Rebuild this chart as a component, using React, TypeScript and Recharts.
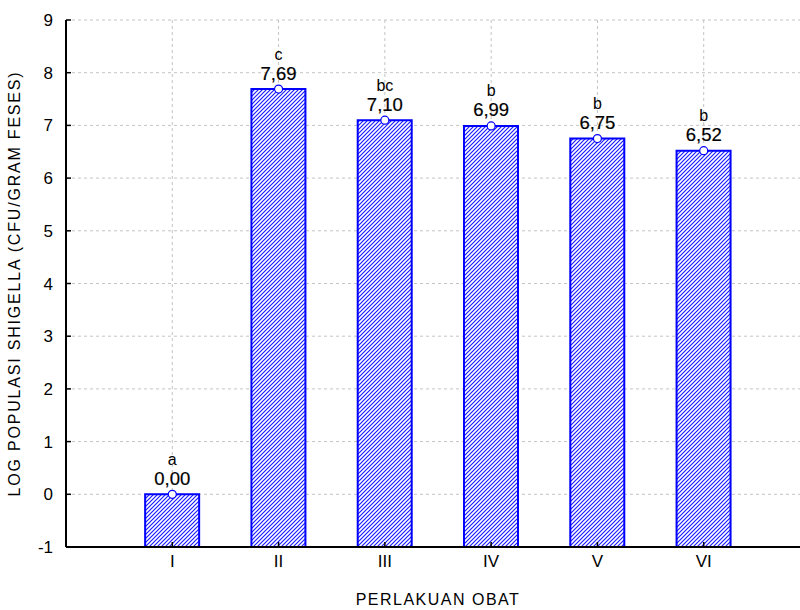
import {
  Bar,
  CartesianGrid,
  ComposedChart,
  LabelList,
  Line,
  XAxis,
  YAxis,
} from 'recharts'

const categories = ['I', 'II', 'III', 'IV', 'V', 'VI']
const values = [0, 7.69, 7.1, 6.99, 6.75, 6.52]
const letters = ['a', 'c', 'bc', 'b', 'b', 'b']
const xTicks = [1, 2, 3, 4, 5, 6]
const yTicks = [-1, 0, 1, 2, 3, 4, 5, 6, 7, 8, 9]
const Y_MIN = -1

const FONT = '"Liberation Sans", Arial, sans-serif'
const BLUE = '#0000ff'
const GRID = '#c4c4c4'

const data = categories.map((c, i) => ({
  x: i + 1,
  name: c,
  value: values[i],
  range: [Y_MIN, values[i]],
  letter: letters[i],
}))

const fmt = (v: number) => v.toFixed(2).replace('.', ',')

function TopLabel(props: any) {
  const { x, y, index } = props
  const d = data[index]
  return (
    <g fontFamily={FONT}>
      <text x={x} y={y - 35} textAnchor="middle" dominantBaseline="central" fontSize={16} fill="#000">
        {d.letter}
      </text>
      <text
        x={x}
        y={y - 16}
        textAnchor="middle"
        dominantBaseline="central"
        fontSize={18.5}
        fill="#000"
        stroke="#000"
        strokeWidth={0.2}
      >
        {fmt(d.value)}
      </text>
    </g>
  )
}

export default function App() {
  return (
    <div
      style={{
        position: 'fixed',
        left: 0,
        top: 0,
        width: 800,
        height: 610,
        overflow: 'hidden',
        background: '#fff',
        fontFamily: FONT,
      }}
    >
      <ComposedChart
        width={830}
        height={610}
        data={data}
        margin={{ top: 20, right: 20, left: 0, bottom: 0 }}
      >
        <defs>
          <pattern id="hatch" patternUnits="userSpaceOnUse" width="4" height="4">
            <rect width="4" height="4" fill="#ffffff" />
            <path d="M-1,1 L1,-1 M0,4 L4,0 M3,5 L5,3" stroke="#1c1cff" strokeWidth={1.2} fill="none" />
          </pattern>
        </defs>
        <CartesianGrid stroke={GRID} strokeDasharray="3 3" xAxisId="main" />
        <XAxis
          xAxisId="top"
          orientation="top"
          type="number"
          dataKey="x"
          domain={[0, 7]}
          ticks={xTicks}
          height={0}
          tickSize={-5}
          tickFormatter={() => ''}
          axisLine={{ stroke: '#000', strokeWidth: 2 }}
          tickLine={{ stroke: '#000', strokeWidth: 1.5 }}
        />
        <XAxis
          xAxisId="main"
          type="number"
          dataKey="x"
          domain={[0, 7]}
          ticks={xTicks}
          height={63}
          tickSize={-5}
          tickMargin={13}
          tickFormatter={(v) => categories[v - 1] ?? ''}
          tick={{ fill: '#000', fontSize: 17, fontFamily: FONT }}
          axisLine={{ stroke: '#000', strokeWidth: 2 }}
          tickLine={{ stroke: '#000', strokeWidth: 1.5 }}
          label={{
            value: 'PERLAKUAN OBAT',
            position: 'insideBottom',
            offset: 5,
            fill: '#000',
            fontSize: 16,
            fontFamily: FONT,
            letterSpacing: 1.5,
          }}
        />
        <YAxis
          type="number"
          domain={[-1, 9]}
          ticks={yTicks}
          width={66}
          tickSize={-5}
          tickMargin={18}
          tick={{ fill: '#000', fontSize: 17, fontFamily: FONT }}
          axisLine={{ stroke: '#000', strokeWidth: 2 }}
          tickLine={{ stroke: '#000', strokeWidth: 1.5 }}
          interval={0}
          label={{
            value: 'LOG POPULASI SHIGELLA (CFU/GRAM FESES)',
            angle: -90,
            position: 'insideLeft',
            offset: 14,
            fill: '#000',
            fontSize: 16,
            fontFamily: FONT,
            letterSpacing: 1.8,
            style: { textAnchor: 'middle' },
          }}
        />
        <Bar
          xAxisId="main"
          dataKey="range"
          barSize={54}
          fill="url(#hatch)"
          stroke={BLUE}
          strokeWidth={2}
          isAnimationActive={false}
        />
        <Line
          xAxisId="main"
          dataKey="value"
          stroke="none"
          dot={{ r: 4, fill: '#fff', stroke: BLUE, strokeWidth: 1.2 }}
          activeDot={false}
          isAnimationActive={false}
        >
          <LabelList dataKey="value" content={(p: any) => <TopLabel {...p} />} />
        </Line>
      </ComposedChart>
    </div>
  )
}
